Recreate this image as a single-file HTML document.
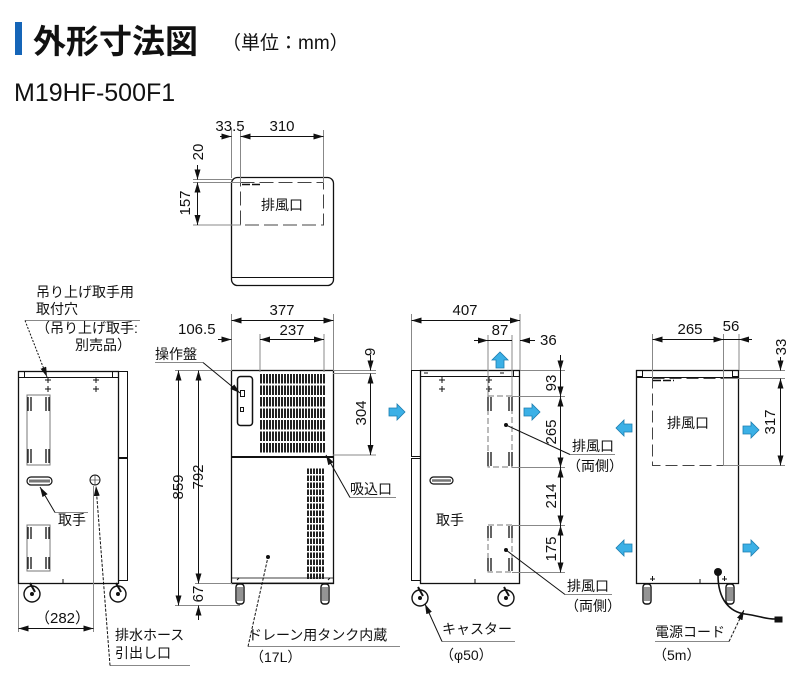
<!DOCTYPE html>
<html><head><meta charset="utf-8">
<style>
html,body{margin:0;padding:0;background:#fff;}
svg{display:block;}
text{font-family:"Liberation Sans","Noto Sans CJK JP",sans-serif;fill:#111;}
.t{font-size:14px;}
.d{font-size:15px;}
</style></head>
<body>
<svg width="800" height="680" viewBox="0 0 800 680" xmlns="http://www.w3.org/2000/svg">
<defs>
<marker id="a" viewBox="0 0 10 6" refX="10" refY="3" markerWidth="10" markerHeight="6" orient="auto-start-reverse" markerUnits="userSpaceOnUse">
<path d="M0,0 L10,3 L0,6 z" fill="#111"/></marker>
<pattern id="vent" x="260" y="373" width="3" height="11.5" patternUnits="userSpaceOnUse">
<rect x="0" y="1" width="2" height="9.5" fill="#222"/></pattern>
<pattern id="vent2" x="307" y="468" width="3" height="7" patternUnits="userSpaceOnUse">
<rect x="0" y="0.5" width="2" height="5.5" fill="#222"/></pattern>
<g id="ra"><path d="M-8,-4 L0,-4 L0,-8 L8,0 L0,8 L0,4 L-8,4 z" fill="#3bb0e6" stroke="#1d7db0" stroke-width="0.8"/></g>
<g id="win">
<rect x="0" y="0" width="23" height="70" fill="none" stroke="#777" stroke-width="1"/>
<path d="M1,2 v14 M4,2 v14 M19,2 v14 M22,2 v14 M1,54 v14 M4,54 v14 M19,54 v14 M22,54 v14" stroke="#111" stroke-width="1.3"/>
</g>
<g id="winS">
<rect x="0" y="0" width="23" height="46" fill="none" stroke="#777" stroke-width="1"/>
<path d="M1,2 v12 M4,2 v12 M19,2 v12 M22,2 v12 M1,32 v12 M4,32 v12 M19,32 v12 M22,32 v12" stroke="#111" stroke-width="1.3"/>
</g>
<g id="caster"><circle r="8" fill="#fff" stroke="#111" stroke-width="1.4"/><circle r="2" fill="#111"/><path d="M-2,-11 L3,-2" stroke="#111" stroke-width="2"/></g>
<g id="foot"><rect x="-4" y="0" width="8" height="20" rx="3" fill="#fff" stroke="#111" stroke-width="1.4"/><path d="M-2,3 v14 M0,3 v14 M2,3 v14" stroke="#111" stroke-width="0.9"/></g>
</defs>

<!-- title -->
<rect x="15" y="22" width="7" height="33" fill="#1565b8"/>
<text x="33" y="53" style="font-size:33px;font-weight:bold">外形寸法図</text>
<text x="222" y="49" style="font-size:19px">（単位：mm）</text>
<text x="14" y="101" style="font-size:25px">M19HF-500F1</text>

<g stroke="#111" stroke-width="1" fill="none">
<!-- TOP VIEW -->
<rect x="231.5" y="177.5" width="102" height="108" rx="6" stroke-width="1.3"/>
<line x1="231.5" y1="277.5" x2="333.5" y2="277.5"/>
<rect x="240.5" y="182.5" width="83" height="42.5" stroke="#444" stroke-dasharray="14,5"/>
<line x1="242" y1="184.5" x2="262" y2="184.5" stroke-dasharray="8,2" stroke-width="1.5"/>
<g stroke="#888">
<line x1="231.5" y1="128" x2="231.5" y2="178"/>
<line x1="240.5" y1="130" x2="240.5" y2="183"/>
<line x1="323.5" y1="130" x2="323.5" y2="183"/>
<line x1="193" y1="179.5" x2="232" y2="179.5"/>
<line x1="193" y1="182.5" x2="241" y2="182.5"/>
<line x1="193" y1="225" x2="241" y2="225"/>
</g>
<line x1="220" y1="136.5" x2="231.5" y2="136.5" marker-end="url(#a)"/>
<line x1="240.5" y1="136.5" x2="323.5" y2="136.5" marker-start="url(#a)" marker-end="url(#a)"/>
<line x1="197.5" y1="165" x2="197.5" y2="179.5" marker-end="url(#a)"/>
<line x1="197.5" y1="182.5" x2="197.5" y2="225" marker-start="url(#a)" marker-end="url(#a)"/>

<!-- LEFT SIDE VIEW -->
<rect x="18.5" y="371.5" width="100" height="212" stroke-width="1.3"/>
<line x1="18.5" y1="377.5" x2="118.5" y2="377.5"/>
<rect x="18.5" y="371.5" width="6" height="6"/>
<rect x="112.5" y="371.5" width="6" height="6"/>
<rect x="118.5" y="371.5" width="9" height="86"/>
<rect x="118.5" y="458.5" width="9" height="122"/>
<line x1="118" y1="458" x2="128" y2="458" stroke-width="2"/>
<path d="M45,380h6M48,377v6M45,389h6M48,386v6M93,380h6M96,377v6M93,389h6M96,386v6"/>
<rect x="27" y="477" width="25" height="8" rx="4" stroke-width="1.2"/>
<line x1="29" y1="481" x2="50" y2="481" stroke="#777" stroke-width="3"/>
<circle cx="95" cy="480" r="5"/>
<path d="M90,480h10M95,475v10" stroke-width="0.6"/>
<path d="M63,583v-4"/>
</g>
<use href="#win" x="27" y="395"/>
<use href="#winS" x="27" y="525"/>
<use href="#caster" x="32" y="594"/>
<use href="#caster" x="118" y="594"/>
<g stroke="#111" stroke-width="1" fill="none">
<line x1="18.5" y1="584" x2="18.5" y2="632" stroke="#888"/>
<line x1="93.5" y1="486" x2="93.5" y2="632" stroke="#888"/>
<line x1="18.5" y1="628.5" x2="93.5" y2="628.5" marker-start="url(#a)" marker-end="url(#a)"/>
<line x1="25" y1="320.5" x2="140" y2="320.5" stroke="#888"/>
<line x1="25" y1="320.5" x2="47" y2="377" stroke-dasharray="2,1.5" marker-end="url(#a)"/>
<line x1="55" y1="512.5" x2="88" y2="512.5" stroke="#888"/>
<line x1="55" y1="512.5" x2="40" y2="487" marker-end="url(#a)"/>
<line x1="110" y1="665.5" x2="190" y2="665.5" stroke="#888"/>
<line x1="110" y1="665.5" x2="96" y2="486" stroke-dasharray="3,1.5" marker-end="url(#a)"/>
</g>
<text x="36" y="297" class="t">吊り上げ取手用</text>
<text x="36" y="314" class="t">取付穴</text>
<text x="36" y="333" class="t">（吊り上げ取手:</text>
<text x="75" y="350" class="t">別売品）</text>
<text x="58" y="525" class="t">取手</text>
<text x="35" y="623" class="d">（282）</text>
<text x="115" y="640" class="t">排水ホース</text>
<text x="115" y="658" class="t">引出し口</text>

<!-- FRONT VIEW -->
<g stroke="#111" stroke-width="1" fill="none">
<rect x="231.5" y="370.5" width="102" height="213" stroke-width="1.3"/>
<line x1="231.5" y1="457" x2="333.5" y2="457" stroke-width="2"/>
<rect x="237.5" y="376.5" width="15" height="49" rx="3" stroke-width="1.5"/>
<rect x="240.5" y="390.5" width="4" height="6"/>
<rect x="240.5" y="407.5" width="3" height="4"/>
<rect x="231.5" y="578" width="102" height="5" stroke-width="0.8"/>
<path d="M237,580l2-2M328,580l2-2"/>
</g>
<rect x="260" y="373" width="65" height="81" fill="url(#vent)"/>
<rect x="307" y="468" width="18" height="112" fill="url(#vent2)"/>
<use href="#foot" x="240" y="584"/>
<use href="#foot" x="325" y="584"/>
<circle cx="268" cy="557" r="2" fill="#111"/>
<g stroke="#111" stroke-width="1" fill="none">
<g stroke="#888">
<line x1="231.5" y1="314" x2="231.5" y2="370"/>
<line x1="333.5" y1="314" x2="333.5" y2="370"/>
<line x1="260" y1="334" x2="260" y2="372"/>
<line x1="324" y1="334" x2="324" y2="372"/>
<line x1="333" y1="370.5" x2="376" y2="370.5"/>
<line x1="333" y1="373.5" x2="376" y2="373.5"/>
<line x1="333" y1="455" x2="376" y2="455"/>
<line x1="175" y1="370.5" x2="232" y2="370.5"/>
<line x1="195" y1="583.5" x2="232" y2="583.5"/>
<line x1="175" y1="605.5" x2="240" y2="605.5"/>
</g>
<line x1="231.5" y1="320.5" x2="333.5" y2="320.5" marker-start="url(#a)" marker-end="url(#a)"/>
<line x1="218" y1="339.5" x2="231.5" y2="339.5" marker-end="url(#a)"/>
<line x1="260" y1="339.5" x2="324" y2="339.5" marker-start="url(#a)" marker-end="url(#a)"/>
<line x1="370.5" y1="355" x2="370.5" y2="370.5" marker-end="url(#a)"/>
<line x1="370.5" y1="373.5" x2="370.5" y2="455" marker-start="url(#a)" marker-end="url(#a)"/>
<line x1="178.5" y1="370.5" x2="178.5" y2="605.5" marker-start="url(#a)" marker-end="url(#a)"/>
<line x1="198.5" y1="370.5" x2="198.5" y2="583.5" marker-start="url(#a)" marker-end="url(#a)"/>
<line x1="198.5" y1="620" x2="198.5" y2="605.5" marker-end="url(#a)"/>
<line x1="155" y1="362.5" x2="203" y2="362.5" stroke="#888"/>
<line x1="203" y1="362.5" x2="240" y2="393" marker-end="url(#a)"/>
<line x1="350" y1="497.5" x2="396" y2="497.5" stroke="#888"/>
<line x1="350" y1="497.5" x2="326" y2="455" marker-end="url(#a)"/>
<line x1="248" y1="646.5" x2="400" y2="646.5" stroke="#888"/>
<line x1="248" y1="646.5" x2="268" y2="557" stroke-dasharray="3,1.5"/>
</g>
<text x="282" y="315" class="d" text-anchor="middle">377</text>
<text x="178" y="334" class="d">106.5</text>
<text x="292" y="335" class="d" text-anchor="middle">237</text>
<text x="155" y="359" class="t">操作盤</text>
<text x="350" y="494" class="t">吸込口</text>
<text x="248" y="640" class="t">ドレーン用タンク内蔵</text>
<text x="250" y="662" class="t">（17L）</text>
<text class="d" transform="translate(375,352) rotate(-90)" text-anchor="middle">9</text>
<text class="d" transform="translate(366,413) rotate(-90)" text-anchor="middle">304</text>
<text class="d" transform="translate(183,487) rotate(-90)" text-anchor="middle">859</text>
<text class="d" transform="translate(203,477) rotate(-90)" text-anchor="middle">792</text>
<text class="d" transform="translate(203,594) rotate(-90)" text-anchor="middle">67</text>

<!-- RIGHT SIDE VIEW -->
<g stroke="#111" stroke-width="1" fill="none">
<rect x="411.5" y="370.5" width="9" height="86"/>
<rect x="411.5" y="458.5" width="9" height="122"/>
<rect x="420.5" y="370.5" width="99" height="213" stroke-width="1.3"/>
<line x1="420.5" y1="376.5" x2="519.5" y2="376.5"/>
<rect x="513.5" y="370.5" width="6" height="6"/>
<path d="M439,380h6M442,377v6M439,389h6M442,386v6M486,380h6M489,377v6M486,389h6M489,386v6M475,583v-4M424,373h4M500,373h4"/>
<rect x="430" y="477" width="23" height="7" rx="3.5" stroke-width="1.2"/>
<line x1="432" y1="480.5" x2="451" y2="480.5" stroke="#777" stroke-width="2.5"/>
</g>
<g stroke="#111" fill="none">
<rect x="488" y="396" width="24" height="71" stroke-dasharray="6,3" stroke="#777"/>
<path d="M488,397v14M491,397v14M509,397v14M512,397v14M488,452v14M491,452v14M509,452v14M512,452v14" stroke-width="1.3"/>
<rect x="488" y="525" width="24" height="47" stroke-dasharray="6,3" stroke="#777"/>
<path d="M488,526v12M491,526v12M509,526v12M512,526v12M488,558v13M491,558v13M509,558v13M512,558v13" stroke-width="1.3"/>
</g>
<circle cx="506" cy="425" r="2" fill="#111"/>
<circle cx="506" cy="550" r="2" fill="#111"/>
<use href="#caster" x="420" y="598"/>
<use href="#caster" x="506" y="598"/>
<use href="#ra" x="397" y="412"/>
<use href="#ra" x="532" y="412"/>
<use href="#ra" transform="translate(500,360) rotate(-90)"/>
<g stroke="#111" stroke-width="1" fill="none">
<g stroke="#888">
<line x1="411.5" y1="314" x2="411.5" y2="370"/>
<line x1="520" y1="314" x2="520" y2="370"/>
<line x1="488" y1="335" x2="488" y2="396"/>
<line x1="512" y1="335" x2="512" y2="396"/>
<line x1="520" y1="370.5" x2="565" y2="370.5"/>
<line x1="512" y1="396.5" x2="565" y2="396.5"/>
<line x1="512" y1="467.5" x2="565" y2="467.5"/>
<line x1="512" y1="525.5" x2="565" y2="525.5"/>
<line x1="512" y1="572.5" x2="565" y2="572.5"/>
</g>
<line x1="411.5" y1="320.5" x2="520" y2="320.5" marker-start="url(#a)" marker-end="url(#a)"/>
<line x1="474" y1="340.5" x2="488" y2="340.5" marker-end="url(#a)"/>
<line x1="488" y1="340.5" x2="512" y2="340.5"/>
<line x1="535" y1="340.5" x2="520" y2="340.5" marker-end="url(#a)"/>
<line x1="560.5" y1="355" x2="560.5" y2="370.5" marker-end="url(#a)"/>
<line x1="560.5" y1="370.5" x2="560.5" y2="396.5" marker-end="url(#a)"/>
<line x1="560.5" y1="396.5" x2="560.5" y2="467.5" marker-start="url(#a)" marker-end="url(#a)"/>
<line x1="560.5" y1="467.5" x2="560.5" y2="525.5" marker-start="url(#a)" marker-end="url(#a)"/>
<line x1="560.5" y1="525.5" x2="560.5" y2="572.5" marker-start="url(#a)" marker-end="url(#a)"/>
<line x1="570" y1="454.5" x2="615" y2="454.5" stroke="#888"/>
<line x1="570" y1="454.5" x2="506" y2="425"/>
<line x1="565" y1="594.5" x2="612" y2="594.5" stroke="#888"/>
<line x1="565" y1="594.5" x2="506" y2="550"/>
<line x1="442" y1="641.5" x2="515" y2="641.5" stroke="#888"/>
<line x1="442" y1="641.5" x2="425" y2="604" marker-end="url(#a)"/>
</g>
<text x="465" y="315" class="d" text-anchor="middle">407</text>
<text x="500" y="335" class="d" text-anchor="middle">87</text>
<text x="540" y="345" class="d">36</text>
<text class="d" transform="translate(556,383) rotate(-90)" text-anchor="middle">93</text>
<text class="d" transform="translate(556,432) rotate(-90)" text-anchor="middle">265</text>
<text class="d" transform="translate(556,496) rotate(-90)" text-anchor="middle">214</text>
<text class="d" transform="translate(556,549) rotate(-90)" text-anchor="middle">175</text>
<text x="572" y="451" class="t">排風口</text>
<text x="567" y="471" class="t">（両側）</text>
<text x="567" y="591" class="t">排風口</text>
<text x="565" y="611" class="t">（両側）</text>
<text x="442" y="634" class="t">キャスター</text>
<text x="440" y="660" class="t">（φ50）</text>
<text x="436" y="525" class="t">取手</text>

<!-- BACK VIEW -->
<g stroke="#111" stroke-width="1" fill="none">
<rect x="636.5" y="370.5" width="102" height="213" stroke-width="1.3"/>
<line x1="636.5" y1="377.5" x2="738.5" y2="377.5"/>
<rect x="636.5" y="370.5" width="6" height="6"/>
<rect x="732.5" y="370.5" width="6" height="6"/>
<rect x="652.5" y="378.5" width="71" height="87" stroke="#444" stroke-dasharray="12,5"/>
<line x1="653" y1="380.5" x2="674" y2="380.5" stroke-dasharray="8,2" stroke-width="1.5"/>
<path d="M650,579h5M652.5,576v5M700,583v-4M722,579h5M724.5,576v5"/>
<path d="M718,575 C718,600 730,612 745,614 C760,616 765,619 775,619" stroke-width="1.6"/>
<rect x="775" y="617" width="7" height="5" fill="#111"/>
</g>
<circle cx="718" cy="572" r="4" fill="#111"/>
<use href="#foot" x="647" y="584"/>
<use href="#foot" x="730" y="584"/>
<use href="#ra" transform="translate(624,428) scale(-1,1)"/>
<use href="#ra" transform="translate(624,548) scale(-1,1)"/>
<use href="#ra" x="751" y="430"/>
<use href="#ra" x="751" y="548"/>
<g stroke="#111" stroke-width="1" fill="none">
<g stroke="#888">
<line x1="652.5" y1="334" x2="652.5" y2="378"/>
<line x1="723.5" y1="334" x2="723.5" y2="466"/>
<line x1="739" y1="334" x2="739" y2="370"/>
<line x1="739" y1="370.5" x2="785" y2="370.5"/>
<line x1="724" y1="378.5" x2="785" y2="378.5"/>
<line x1="724" y1="465.5" x2="785" y2="465.5"/>
</g>
<line x1="652.5" y1="339.5" x2="723.5" y2="339.5" marker-start="url(#a)" marker-end="url(#a)"/>
<line x1="723.5" y1="339.5" x2="739" y2="339.5"/>
<line x1="752" y1="339.5" x2="739" y2="339.5" marker-end="url(#a)"/>
<line x1="780.5" y1="357" x2="780.5" y2="370.5" marker-end="url(#a)"/>
<line x1="780.5" y1="378.5" x2="780.5" y2="465.5" marker-start="url(#a)" marker-end="url(#a)"/>
<line x1="655" y1="641.5" x2="729" y2="641.5" stroke="#888"/>
<line x1="729" y1="641.5" x2="744" y2="610" stroke-dasharray="3,1.5" marker-end="url(#a)"/>
</g>
<text x="690" y="334" class="d" text-anchor="middle">265</text>
<text x="731" y="331" class="d" text-anchor="middle">56</text>
<text class="d" transform="translate(786,347) rotate(-90)" text-anchor="middle">33</text>
<text class="d" transform="translate(775,422) rotate(-90)" text-anchor="middle">317</text>
<text x="688" y="428" class="t" text-anchor="middle">排風口</text>
<text x="655" y="637" class="t">電源コード</text>
<text x="653" y="660" class="t">（5m）</text>

<text class="d" transform="translate(203,152) rotate(-90)" text-anchor="middle">20</text>
<text class="d" transform="translate(190,203) rotate(-90)" text-anchor="middle">157</text>
<text x="230" y="131" class="d" text-anchor="middle">33.5</text>
<text x="282" y="131" class="d" text-anchor="middle">310</text>
<text x="282" y="210" class="t" text-anchor="middle">排風口</text>
</svg>
</body></html>
